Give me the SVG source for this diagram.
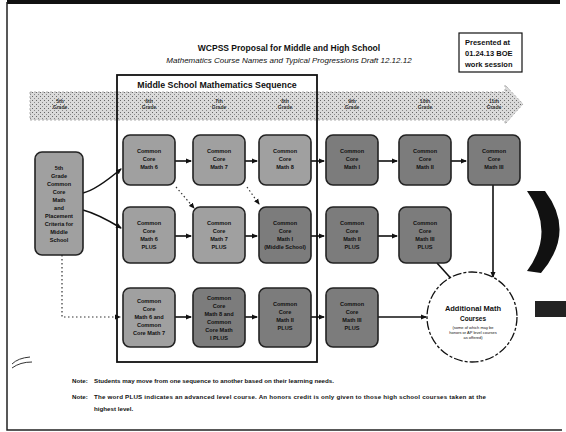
<svg xmlns="http://www.w3.org/2000/svg" width="566" height="432" viewBox="0 0 566 432">
<defs>
<style>
.t{font-family:"Liberation Sans",Arial,sans-serif;fill:#111}
.b{font-weight:bold}
.box{stroke:#222;stroke-width:1.6}
.lt{fill:#a0a0a0}
.dk{fill:#7c7c7c}
.bx{font-family:"Liberation Sans",Arial,sans-serif;font-size:5.6px;font-weight:bold;fill:#111;text-anchor:middle}
.gl{font-family:"Liberation Sans",Arial,sans-serif;font-size:5px;font-weight:bold;fill:#333;text-anchor:middle}
.c{stroke:#111;stroke-width:1.6;fill:none}
.d{stroke:#333;stroke-width:1.2;fill:none;stroke-dasharray:1.5 2.5}
</style>
<marker id="ah" markerWidth="6" markerHeight="6" refX="5" refY="3" orient="auto" markerUnits="userSpaceOnUse">
<path d="M0,0.5 L6,3 L0,5.5 Z" fill="#111"/>
</marker>
<pattern id="dots" width="4" height="4" patternUnits="userSpaceOnUse">
<rect width="4" height="4" fill="#dadada"/>
<rect x="0" y="0" width="1" height="1" fill="#666"/>
<rect x="2" y="2" width="1" height="1" fill="#888"/>
</pattern>
</defs>
<rect width="566" height="432" fill="#fff"/>
<!-- page border and scan marks -->
<g id="page">
<path d="M7,2 H560" stroke="#111" stroke-width="4"/>
<path d="M7,2 V430 H562" stroke="#222" stroke-width="1.5" fill="none"/>
<path d="M12,364 Q18,358 30,357 M12,368 Q20,362 32,362" stroke="#333" stroke-width="1" fill="none"/>
<path d="M527,191 L545,191 Q576,232 541,273 L527,271 Q556,232 527,191 Z" fill="#111"/>
<rect x="535" y="301" width="31" height="16" fill="#222"/>
</g>
<!-- title -->
<g id="title">
<text class="t b" x="289" y="51" font-size="8.5" text-anchor="middle">WCPSS Proposal for Middle and High School</text>
<text class="t" x="289" y="63" font-size="8" font-style="italic" text-anchor="middle">Mathematics Course Names and Typical Progressions Draft 12.12.12</text>
</g>
<g id="presented">
<rect x="459" y="33" width="63" height="39" fill="#fff" stroke="#111" stroke-width="1.2"/>
<text class="t b" x="465" y="45" font-size="7.5" font-family="Liberation Serif,serif">Presented at</text>
<text class="t b" x="465" y="56" font-size="7.5" font-family="Liberation Serif,serif">01.24.13 BOE</text>
<text class="t b" x="465" y="67" font-size="7.5" font-family="Liberation Serif,serif">work session</text>
</g>
<!-- grade band -->
<g id="band">
<path d="M30,92 H505 V85 L523,104 L505,124 V120 H30 Z" fill="url(#dots)" stroke="#999" stroke-width="0.8" stroke-dasharray="2 2"/>
<text class="gl" x="60" y="103">5th</text><text class="gl" x="60" y="109">Grade</text>
<text class="gl" x="149" y="103">6th</text><text class="gl" x="149" y="109">Grade</text>
<text class="gl" x="219" y="103">7th</text><text class="gl" x="219" y="109">Grade</text>
<text class="gl" x="285" y="103">8th</text><text class="gl" x="285" y="109">Grade</text>
<text class="gl" x="352" y="103">9th</text><text class="gl" x="352" y="109">Grade</text>
<text class="gl" x="425" y="103">10th</text><text class="gl" x="425" y="109">Grade</text>
<text class="gl" x="494" y="103">11th</text><text class="gl" x="494" y="109">Grade</text>
</g>
<!-- middle school frame -->
<g id="ms-frame">
<rect x="117" y="75" width="200" height="287" fill="none" stroke="#111" stroke-width="1.8"/>
<text class="t b" x="217" y="88" font-size="8.8" text-anchor="middle">Middle School Mathematics Sequence</text>
</g>
<!-- connectors -->
<g id="connectors">
<path class="c" d="M83,193 Q96,190 121,169" marker-end="url(#ah)"/>
<path class="c" d="M83,210 Q98,214 121,228" marker-end="url(#ah)"/>
<path class="d" d="M62,255 V317 H120" marker-end="url(#ah)"/>
<path class="c" d="M175,161 H191" marker-end="url(#ah)"/>
<path class="c" d="M245,161 H257" marker-end="url(#ah)"/>
<path class="c" d="M311,161 H324" marker-end="url(#ah)"/>
<path class="c" d="M378,161 H397" marker-end="url(#ah)"/>
<path class="c" d="M451,161 H466" marker-end="url(#ah)"/>
<path class="c" d="M175,236 H191" marker-end="url(#ah)"/>
<path class="c" d="M245,236 H257" marker-end="url(#ah)"/>
<path class="c" d="M311,236 H324" marker-end="url(#ah)"/>
<path class="c" d="M378,236 H397" marker-end="url(#ah)"/>
<path class="c" d="M175,317 H191" marker-end="url(#ah)"/>
<path class="c" d="M245,317 H257" marker-end="url(#ah)"/>
<path class="c" d="M311,317 H324" marker-end="url(#ah)"/>
<path class="c" d="M378,317 H426" marker-end="url(#ah)"/>
<path class="c" d="M493,185 V277" marker-end="url(#ah)"/>
<path class="c" d="M437,263 L456,284" marker-end="url(#ah)"/>
<path class="d" d="M176,187 L194,208" marker-end="url(#ah)"/>
<path class="d" d="M247,187 L259,204" marker-end="url(#ah)"/>
</g>
<!-- start node -->
<g id="n-start">
<rect class="box lt" x="35" y="152" width="48" height="103" rx="7"/>
<text class="bx" x="59" y="170">5th</text>
<text class="bx" x="59" y="178">Grade</text>
<text class="bx" x="59" y="186">Common</text>
<text class="bx" x="59" y="194">Core</text>
<text class="bx" x="59" y="202">Math</text>
<text class="bx" x="59" y="210">and</text>
<text class="bx" x="59" y="218">Placement</text>
<text class="bx" x="59" y="226">Criteria for</text>
<text class="bx" x="59" y="234">Middle</text>
<text class="bx" x="59" y="242">School</text>
</g>
<!-- row 1 -->
<g id="n-r1c1"><rect class="box lt" x="123" y="135" width="52" height="50" rx="7"/>
<text class="bx" x="149" y="153">Common</text><text class="bx" x="149" y="161">Core</text><text class="bx" x="149" y="169">Math 6</text></g>
<g id="n-r1c2"><rect class="box lt" x="193" y="135" width="52" height="50" rx="7"/>
<text class="bx" x="219" y="153">Common</text><text class="bx" x="219" y="161">Core</text><text class="bx" x="219" y="169">Math 7</text></g>
<g id="n-r1c3"><rect class="box lt" x="259" y="135" width="52" height="50" rx="7"/>
<text class="bx" x="285" y="153">Common</text><text class="bx" x="285" y="161">Core</text><text class="bx" x="285" y="169">Math 8</text></g>
<g id="n-r1c4"><rect class="box dk" x="326" y="135" width="52" height="50" rx="7"/>
<text class="bx" x="352" y="153">Common</text><text class="bx" x="352" y="161">Core</text><text class="bx" x="352" y="169">Math I</text></g>
<g id="n-r1c5"><rect class="box dk" x="399" y="135" width="52" height="50" rx="7"/>
<text class="bx" x="425" y="153">Common</text><text class="bx" x="425" y="161">Core</text><text class="bx" x="425" y="169">Math II</text></g>
<g id="n-r1c6"><rect class="box dk" x="468" y="135" width="52" height="50" rx="7"/>
<text class="bx" x="494" y="153">Common</text><text class="bx" x="494" y="161">Core</text><text class="bx" x="494" y="169">Math III</text></g>
<!-- row 2 -->
<g id="n-r2c1"><rect class="box lt" x="123" y="207" width="52" height="56" rx="7"/>
<text class="bx" x="149" y="225">Common</text><text class="bx" x="149" y="233">Core</text><text class="bx" x="149" y="241">Math 6</text><text class="bx" x="149" y="249">PLUS</text></g>
<g id="n-r2c2"><rect class="box lt" x="193" y="207" width="52" height="56" rx="7"/>
<text class="bx" x="219" y="225">Common</text><text class="bx" x="219" y="233">Core</text><text class="bx" x="219" y="241">Math 7</text><text class="bx" x="219" y="249">PLUS</text></g>
<g id="n-r2c3"><rect class="box dk" x="259" y="207" width="52" height="56" rx="7"/>
<text class="bx" x="285" y="225">Common</text><text class="bx" x="285" y="233">Core</text><text class="bx" x="285" y="241">Math I</text><text class="bx" x="285" y="249">(Middle School)</text></g>
<g id="n-r2c4"><rect class="box dk" x="326" y="207" width="52" height="56" rx="7"/>
<text class="bx" x="352" y="225">Common</text><text class="bx" x="352" y="233">Core</text><text class="bx" x="352" y="241">Math II</text><text class="bx" x="352" y="249">PLUS</text></g>
<g id="n-r2c5"><rect class="box dk" x="399" y="207" width="52" height="56" rx="7"/>
<text class="bx" x="425" y="225">Common</text><text class="bx" x="425" y="233">Core</text><text class="bx" x="425" y="241">Math III</text><text class="bx" x="425" y="249">PLUS</text></g>
<!-- row 3 -->
<g id="n-r3c1"><rect class="box lt" x="123" y="288" width="52" height="59" rx="7"/>
<text class="bx" x="149" y="303">Common</text><text class="bx" x="149" y="311">Core</text><text class="bx" x="149" y="319">Math 6 and</text><text class="bx" x="149" y="327">Common</text><text class="bx" x="149" y="335">Core Math 7</text></g>
<g id="n-r3c2"><rect class="box dk" x="193" y="288" width="52" height="59" rx="7"/>
<text class="bx" x="219" y="300">Common</text><text class="bx" x="219" y="308">Core</text><text class="bx" x="219" y="316">Math 8 and</text><text class="bx" x="219" y="324">Common</text><text class="bx" x="219" y="332">Core Math</text><text class="bx" x="219" y="340">I PLUS</text></g>
<g id="n-r3c3"><rect class="box dk" x="259" y="288" width="52" height="59" rx="7"/>
<text class="bx" x="285" y="306">Common</text><text class="bx" x="285" y="314">Core</text><text class="bx" x="285" y="322">Math II</text><text class="bx" x="285" y="330">PLUS</text></g>
<g id="n-r3c4"><rect class="box dk" x="326" y="288" width="52" height="59" rx="7"/>
<text class="bx" x="352" y="306">Common</text><text class="bx" x="352" y="314">Core</text><text class="bx" x="352" y="322">Math III</text><text class="bx" x="352" y="330">PLUS</text></g>
<!-- circle -->
<g id="n-additional">
<circle cx="472" cy="317" r="45" fill="#fff" stroke="#111" stroke-width="1.3" stroke-dasharray="9 2 3 2"/>
<text class="t b" x="473" y="311" font-size="7.5" text-anchor="middle">Additional Math</text>
<text class="t b" x="473" y="321" font-size="6.5" text-anchor="middle">Courses</text>
<text class="t" x="473" y="329" font-size="4" text-anchor="middle">(some of which may be</text>
<text class="t" x="473" y="334" font-size="4" text-anchor="middle">honors or AP level courses</text>
<text class="t" x="473" y="339" font-size="4" text-anchor="middle">as offered)</text>
</g>
<!-- notes -->
<g id="notes">
<text class="t b" x="72" y="383" font-size="6.2">Note:</text>
<text class="t b" x="94" y="383" font-size="6.2">Students may move from one sequence to another based on their learning needs.</text>
<text class="t b" x="72" y="399" font-size="6.2">Note:</text>
<text class="t b" x="94" y="399" font-size="6.2" textLength="392">The word PLUS indicates an advanced level course. An honors credit is only given to those high school courses taken at the</text>
<text class="t b" x="94" y="411" font-size="6.2">highest level.</text>
</g>
</svg>
